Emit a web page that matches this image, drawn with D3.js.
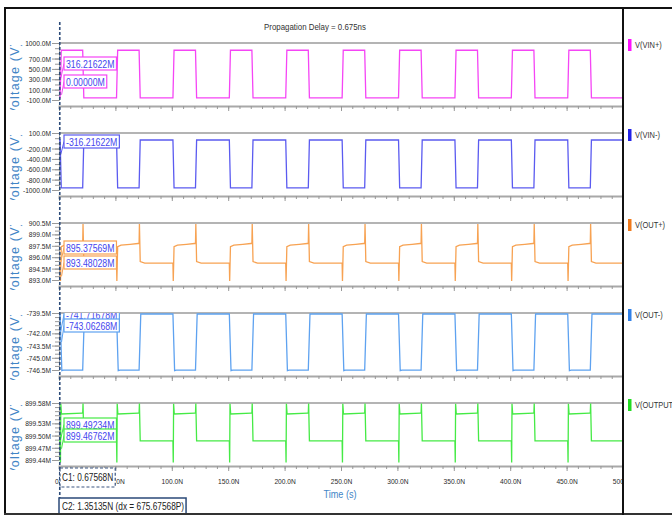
<!DOCTYPE html>
<html>
<head>
<meta charset="utf-8">
<script src="https://cdn.jsdelivr.net/npm/d3@7"></script>
<style>
body { margin: 0; background: #fff; }
svg { display: block; font-family: "Liberation Sans Narrow", "Liberation Sans", Arial, sans-serif; }
</style>
</head>
<body>
<svg id="chart" width="672" height="515"></svg>
<script>
// ---- data ----
const titleText = "Propagation Delay = 0.675ns";
const seriesNames = ["V(VIN+)", "V(VIN-)", "V(OUT+)", "V(OUT-)", "V(OUTPUT)"];
const traceColors = ["#f545f5", "#5b5bf0", "#f7a252", "#5ea2f0", "#45ea45"];
const legendColors = ["#ff10ff", "#2222e8", "#f07a1c", "#3080e8", "#22dc22"];

const timeTicks = [0, 50, 100, 150, 200, 250, 300, 350, 400, 450, 500];
const timeTickLabels = ["0.0", "50.0N", "100.0N", "150.0N", "200.0N", "250.0N", "300.0N", "350.0N", "400.0N", "450.0N", "500.0N"];

// edges of the input pulse train (ns)
const riseTimes = [1, 51, 101, 151, 201, 251, 301, 351, 401, 451];
const fallTimes = [21, 71, 121, 171, 221, 271, 321, 371, 421, 471];

const yDomains = [[-100, 1000], [-1000, 100], [893, 900.5], [-746.5, -739.5], [899.44, 899.58]];
const yTickValues = [
  [1000, 700, 500, 300, 100, -100],
  [100, -200, -400, -600, -800, -1000],
  [900.5, 899, 897.5, 896, 894.5, 893],
  [-739.5, -742, -743.5, -745, -746.5],
  [899.58, 899.53, 899.5, 899.47, 899.44]
];
const yTickLabels = [
  ["1000.0M", "700.0M", "500.0M", "300.0M", "100.0M", "-100.0M"],
  ["100.0M", "-200.0M", "-400.0M", "-600.0M", "-800.0M", "-1000.0M"],
  ["900.5M", "899.0M", "897.5M", "896.0M", "894.5M", "893.0M"],
  ["-739.5M", "-742.0M", "-743.5M", "-745.0M", "-746.5M"],
  ["899.58M", "899.53M", "899.50M", "899.47M", "899.44M"]
];

// waveform around each edge: [time after edge (ns), value (mV)]
const vinPlusRise = [[0, -60], [1, 860]];
const vinPlusFall = [[0, 860], [1, -60]];
const vinMinusRise = [[0, -35], [1, -960]];
const vinMinusFall = [[0, -960], [1, -35]];
const outPlusRise = [[0, 895.22], [0.3, 892.87], [1, 897.4], [4, 897.6], [12, 897.7], [19, 897.8]];
const outPlusFall = [[0, 897.8], [0.3, 900.37], [1, 895.42], [5, 895.22]];
const outMinusRise = [[0, -739.62], [1.5, -746.58], [3, -746.52]];
const outMinusFall = [[0, -746.52], [1.5, -739.62]];
const outputRise = [[0, 899.487], [0.3, 899.434], [0.6, 899.578], [1.2, 899.553], [19.4, 899.555]];
const outputFall = [[0, 899.555], [0.3, 899.579], [1, 899.487]];

const riseShapes = [vinPlusRise, vinMinusRise, outPlusRise, outMinusRise, outputRise];
const fallShapes = [vinPlusFall, vinMinusFall, outPlusFall, outMinusFall, outputFall];

// cursor readouts
const cursorTimes = [0.67568, 1.35135];
const cursorReadouts = [
  ["316.21622M", "0.00000M"],
  ["-316.21622M"],
  ["895.37569M", "893.48028M"],
  ["-741.71678M", "-743.06268M"],
  ["899.49234M", "899.46762M"]
];
const c1Text = "C1: 0.67568N";
const c2Text = "C2: 1.35135N (dx = 675.67568P)";

// ---- layout ----
const svg = d3.select("#chart");
const plotLeft = 59, plotRight = 623;
const panelTop0 = 43, panelStep = 90, panelH = 63, tickSpan = 57;
const boxOffsets = [[14, 32], [2], [18, 33], [-5, 6], [15, 26]];
const blue = "#4285c6";
const narrow = 0.83;

// squeeze text horizontally, the viewer uses a narrow face; returns new width
function squeeze(sel, k) {
  let last = 0;
  sel.each(function () {
    const w = this.getComputedTextLength();
    last = w * k;
    d3.select(this).attr("textLength", last).attr("lengthAdjust", "spacingAndGlyphs");
  });
  return last;
}

const x = d3.scaleLinear().domain([0, 500]).range([plotLeft, plotRight]);

svg.append("rect").attr("x", 0).attr("y", 0).attr("width", 672).attr("height", 515).attr("fill", "#fff");

const defs = svg.append("defs");
defs.append("clipPath").attr("id", "leftArea")
  .append("rect").attr("x", 6).attr("y", 9).attr("width", plotRight - 6).attr("height", 504);

squeeze(svg.append("text")
  .attr("x", 264).attr("y", 30)
  .attr("font-size", 9.5).attr("fill", "#333")
  .text(titleText), narrow);

function buildTrace(rise, fall) {
  const edges = riseTimes.map(t => ({ t, shape: rise }))
    .concat(fallTimes.map(t => ({ t, shape: fall })))
    .sort((a, b) => a.t - b.t);
  const pts = [[0, rise[0][1]]];
  edges.forEach(e => e.shape.forEach(p => pts.push([e.t + p[0], p[1]])));
  pts.push([500, fall[fall.length - 1][1]]);
  return pts;
}

const minorTimes = d3.range(0, 501, 10);

seriesNames.forEach((name, i) => {
  const top = panelTop0 + panelStep * i;
  const bottom = top + panelH;
  const y = d3.scaleLinear().domain(yDomains[i]).range([top + tickSpan, top]);
  const g = svg.append("g").attr("clip-path", "url(#leftArea)");

  defs.append("clipPath").attr("id", "panel" + i)
    .append("rect").attr("x", plotLeft).attr("y", top).attr("width", plotRight - plotLeft).attr("height", panelH);
  defs.append("clipPath").attr("id", "ylab" + i)
    .append("rect").attr("x", 6).attr("y", top + 2).attr("width", 30).attr("height", panelH + 2);

  // panel top line
  g.append("line").attr("x1", plotLeft).attr("x2", plotRight).attr("y1", top).attr("y2", top)
    .attr("stroke", "#b4b4b4").attr("stroke-width", 2);

  // x axis ticks
  const xAxis = g.append("g").attr("transform", `translate(0,${bottom})`)
    .call(d3.axisBottom(x).tickValues(minorTimes).tickSize(3).tickFormat(""));
  xAxis.select(".domain").attr("stroke", "#a8a8a8").attr("stroke-width", 2);
  xAxis.selectAll(".tick line").attr("stroke", "#999");
  const xMajor = g.append("g").attr("transform", `translate(0,${bottom})`)
    .call(d3.axisBottom(x).tickValues(timeTicks).tickSize(5)
      .tickFormat((d, j) => i === seriesNames.length - 1 ? timeTickLabels[j] : ""));
  xMajor.select(".domain").remove();
  xMajor.selectAll(".tick line").attr("stroke", "#999");
  xMajor.selectAll("text").attr("font-size", 8).attr("fill", "#2a2a2a").attr("dy", "1.2em")
    .attr("font-family", "inherit")
    .each(function () { squeeze(d3.select(this), narrow); });

  // y axis
  const yMinor = g.append("g").attr("transform", `translate(${plotLeft},0)`)
    .call(d3.axisLeft(y).ticks(12).tickSize(4).tickFormat(""));
  yMinor.select(".domain").remove();
  yMinor.selectAll(".tick line").attr("stroke", "#999");
  const yAxis = g.append("g").attr("transform", `translate(${plotLeft},0)`)
    .call(d3.axisLeft(y).tickValues(yTickValues[i]).tickSize(7).tickPadding(1)
      .tickFormat((d, j) => yTickLabels[i][j]));
  yAxis.select(".domain").attr("stroke", "#999");
  yAxis.selectAll(".tick line").attr("stroke", "#999");
  yAxis.selectAll("text").attr("font-size", 8).attr("fill", "#2a2a2a").attr("font-family", "inherit")
    .each(function () { squeeze(d3.select(this), narrow); });

  // y label (clipped by the panel like in the viewer)
  g.append("g").attr("clip-path", `url(#ylab${i})`)
    .append("text")
    .attr("transform", `translate(18.5,${top + panelH / 2 + 4}) rotate(-90)`)
    .attr("text-anchor", "middle")
    .attr("font-family", "Liberation Sans, Arial, sans-serif")
    .attr("font-size", 12.5).attr("letter-spacing", 1.2)
    .attr("fill", blue)
    .text("Voltage (V)");

  // trace
  const pts = buildTrace(riseShapes[i], fallShapes[i]);
  g.append("path")
    .attr("clip-path", `url(#panel${i})`)
    .attr("d", d3.line().x(d => x(d[0])).y(d => y(d[1]))(pts))
    .attr("fill", "none")
    .attr("stroke", traceColors[i])
    .attr("stroke-width", 1.3);

  // cursor readouts
  const rg = g.append("g").attr("clip-path", `url(#panel${i})`);
  cursorReadouts[i].forEach((txt, k) => {
    const by = top + boxOffsets[i][k];
    const bx = 64;
    const val = parseFloat(txt);
    rg.append("line")
      .attr("x1", x(cursorTimes[k]) + 1).attr("y1", y(val))
      .attr("x2", bx).attr("y2", by + 6.5)
      .attr("stroke", traceColors[i]).attr("stroke-width", 1);
    const box = rg.append("rect").attr("x", bx).attr("y", by).attr("height", 13)
      .attr("fill", "#fff").attr("stroke", traceColors[i]).attr("stroke-width", 1.2);
    const t = rg.append("text").attr("x", bx + 2).attr("y", by + 10.5)
      .attr("font-size", 10.5).attr("fill", "#4545ee").text(txt);
    const w = squeeze(t, narrow);
    box.attr("width", w + 4);
  });

  // legend
  svg.append("rect").attr("x", 628).attr("y", top - 4).attr("width", 3.5).attr("height", 12)
    .attr("fill", legendColors[i]);
  squeeze(svg.append("text").attr("x", 635).attr("y", top + 5)
    .attr("font-size", 9).attr("fill", "#333").text(name), narrow);
});

// time axis title
squeeze(svg.append("text").attr("x", 340).attr("y", 498).attr("text-anchor", "middle")
  .attr("font-size", 11).attr("fill", blue).text("Time (s)"), narrow);

// cursor line
svg.append("line")
  .attr("x1", x(cursorTimes[0])).attr("x2", x(cursorTimes[0]))
  .attr("y1", 22).attr("y2", 498)
  .attr("stroke", "#2b4a78").attr("stroke-width", 1.6).attr("stroke-dasharray", "3,2");

// cursor boxes
const c1 = svg.append("g");
const c1r = c1.append("rect").attr("x", 60).attr("y", 468).attr("height", 19)
  .attr("fill", "#fff").attr("stroke", "#3a5580").attr("stroke-dasharray", "3,2").attr("stroke-width", 1.2);
const c1t = c1.append("text").attr("x", 62).attr("y", 481).attr("font-size", 10).attr("fill", "#222").text(c1Text);
c1r.attr("width", squeeze(c1t, narrow) + 4);

const c2 = svg.append("g");
const c2r = c2.append("rect").attr("x", 59).attr("y", 498).attr("height", 16)
  .attr("fill", "#fff").attr("stroke", "#2b4a78").attr("stroke-width", 1.5);
const c2t = c2.append("text").attr("x", 62).attr("y", 510).attr("font-size", 10).attr("fill", "#222").text(c2Text);
c2r.attr("width", squeeze(c2t, narrow) + 5);

// outer frame
const frame = svg.append("g").attr("stroke", "#111").attr("stroke-width", 2);
frame.append("line").attr("x1", 4).attr("x2", 672).attr("y1", 8).attr("y2", 8);
frame.append("line").attr("x1", 5).attr("x2", 5).attr("y1", 8).attr("y2", 515);
frame.append("line").attr("x1", 4).attr("x2", 672).attr("y1", 514).attr("y2", 514).attr("stroke", "#333");
frame.append("line").attr("x1", 623).attr("x2", 623).attr("y1", 8).attr("y2", 515);
</script>
</body>
</html>
